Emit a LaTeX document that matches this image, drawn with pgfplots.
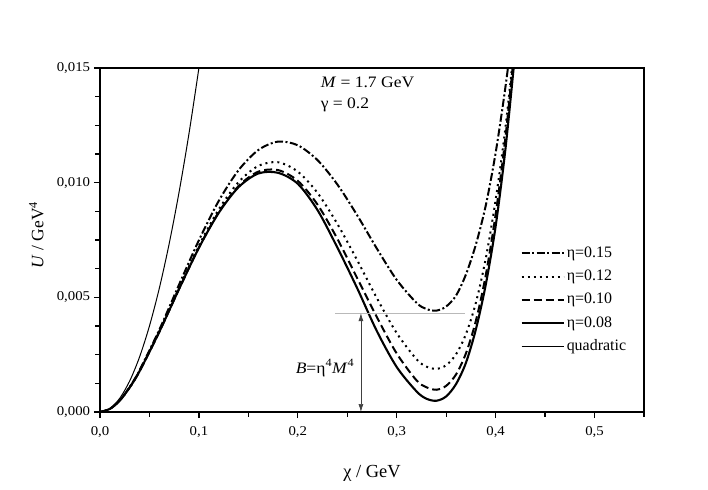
\documentclass[border=0pt]{standalone}
\usepackage{fontspec}
\setmainfont{Liberation Serif}
\usepackage{pgfplots}
\pgfplotsset{compat=1.18}
\usepackage{pgfplotstable}
\usetikzlibrary{arrows.meta}

\pgfplotstableread{
x     e15      e12      e10      e08
0     0        0        0        0
0.01  0.000136 0.000134 0.000134 0.000135
0.02  0.00051  0.000506 0.000505 0.0005
0.03  0.00109  0.00107  0.00107  0.00107
0.04  0.00182  0.00179  0.00178  0.00178
0.06  0.00359  0.00351  0.0035   0.0035
0.08  0.00556  0.00541  0.00537  0.00537
0.10  0.00749  0.00725  0.00717  0.00716
0.12  0.0092   0.00883  0.00871  0.00868
0.14  0.01054  0.01002  0.00985  0.0098
0.16  0.01142  0.01073  0.01048  0.0104
0.18  0.01179  0.01089  0.01055  0.01043
0.20  0.01163  0.01048  0.01008  0.00995
0.22  0.01098  0.00955  0.00904  0.0088
0.24  0.00992  0.0082   0.00755  0.00717
0.26  0.00858  0.00662  0.00584  0.0054
0.28  0.00712  0.00496  0.00413  0.00352
0.30  0.00576  0.00344  0.00255  0.00196
0.32  0.00476  0.0023   0.00138  0.0009
0.33  0.00449  0.00198  0.00108  0.00058
0.34  0.00442  0.00188  0.00097  0.00049
0.35  0.0046   0.00204  0.00114  0.00068
0.36  0.00508  0.00252  0.00164  0.00122
0.37  0.0060   0.0034   0.00256  0.00215
0.38  0.0073   0.00476  0.00397  0.0036
0.39  0.0090   0.00669  0.00596  0.00555
0.40  0.0113   0.00925  0.00862  0.0081
0.41  0.0142   0.01242  0.01201  0.0115
0.42  0.0176   0.01646  0.01626  0.0158
}\curves

\pgfplotstableread{
x      q
0      0
0.01   0.00015
0.02   0.0006
0.03   0.00135
0.04   0.0024
0.05   0.00375
0.06   0.0054
0.07   0.00735
0.08   0.0096
0.09   0.01215
0.10   0.015
0.105  0.01654
}\quadtab

\begin{document}
\begin{tikzpicture}
\useasboundingbox (-100bp,-78bp) rectangle (608bp,412bp);
\begin{axis}[
  at={(0,0)}, anchor=south west,
  scale only axis, width=544bp, height=344bp,
  xmin=0, xmax=0.55, ymin=0, ymax=0.015,
  axis line style={line width=1.8bp},
  tick style={black, line width=1.3bp},
  major tick length=6bp, minor tick length=4.5bp,
  tick align=outside, tick pos=left,
  xtick={0,0.1,0.2,0.3,0.4,0.5},
  xticklabels={{0,0},{0,1},{0,2},{0,3},{0,4},{0,5}},
  minor xtick={0.05,0.15,0.25,0.35,0.45,0.55},
  ytick={0,0.005,0.01,0.015},
  yticklabels={{0,000},{0,005},{0,010},{0,015}},
  minor ytick={0.00125,0.0025,0.00375,0.00625,0.0075,0.00875,0.01125,0.0125,0.01375},
  scaled ticks=false,
  tick label style={font=\fontsize{13.5}{16}\selectfont, xscale=1.1},
  xticklabel style={yshift=-5bp},
  xlabel={χ / GeV},
  ylabel={\textit{U} / GeV\textsuperscript{4}},
  xlabel style={at={(axis description cs:0.5,-0.191)}, anchor=base, font=\fontsize{18.5}{20}\selectfont},
  ylabel style={at={(axis description cs:-0.1042,0.515)}, anchor=base, font=\fontsize{17.5}{20}\selectfont},
  legend style={at={(axis cs:0.4251,0.007232)}, anchor=north west, draw=none, fill=none,
    inner sep=0pt, row sep=9.3bp, column sep=2bp, font=\fontsize{16}{18}\selectfont,
    nodes={inner sep=0pt, text height=11bp, text depth=3bp}},
  legend cell align=left,
  legend image code/.code={\draw[#1] (0bp,0bp) -- (42bp,0bp);},
]
\addplot[black, line width=2bp, smooth, dash pattern=on 8bp off 2.5bp on 2bp off 2.5bp] table[x=x,y=e15]{\curves};
\addlegendentry{η=0.15}
\addplot[black, line width=2bp, smooth, dash pattern=on 2bp off 4bp] table[x=x,y=e12]{\curves};
\addlegendentry{η=0.12}
\addplot[black, line width=2bp, smooth, dash pattern=on 8bp off 4bp] table[x=x,y=e10]{\curves};
\addlegendentry{η=0.10}
\addplot[black, line width=2.1bp, smooth] table[x=x,y=e08]{\curves};
\addlegendentry{η=0.08}
\addplot[black, line width=1bp, smooth] table[x=x,y=q]{\quadtab};
\addlegendentry{quadratic}

\addplot[gray!55, line width=0.9bp, forget plot] coordinates {(0.2379,0.00431) (0.3694,0.00431)};
\addplot[black!75, line width=0.7bp, {Latex[length=8bp,width=5bp]}-{Latex[length=8bp,width=5bp]}, forget plot] coordinates {(0.2638,0.00431) (0.2638,0)};

\node[anchor=base west, font=\fontsize{16}{18}\selectfont, xscale=1.1] at (axis cs:0.2193,0.01414) {\textit{M} = 1.7 GeV};
\node[anchor=base west, font=\fontsize{16}{18}\selectfont, xscale=1.1] at (axis cs:0.2193,0.01322) {γ = 0.2};
\node[anchor=base west, font=\fontsize{16}{18}\selectfont, xscale=1.1] at (axis cs:0.194,0.00169) {\textit{B}=η\textsuperscript{4}\textit{M}\textsuperscript{4}};
\end{axis}
\end{tikzpicture}
\end{document}
